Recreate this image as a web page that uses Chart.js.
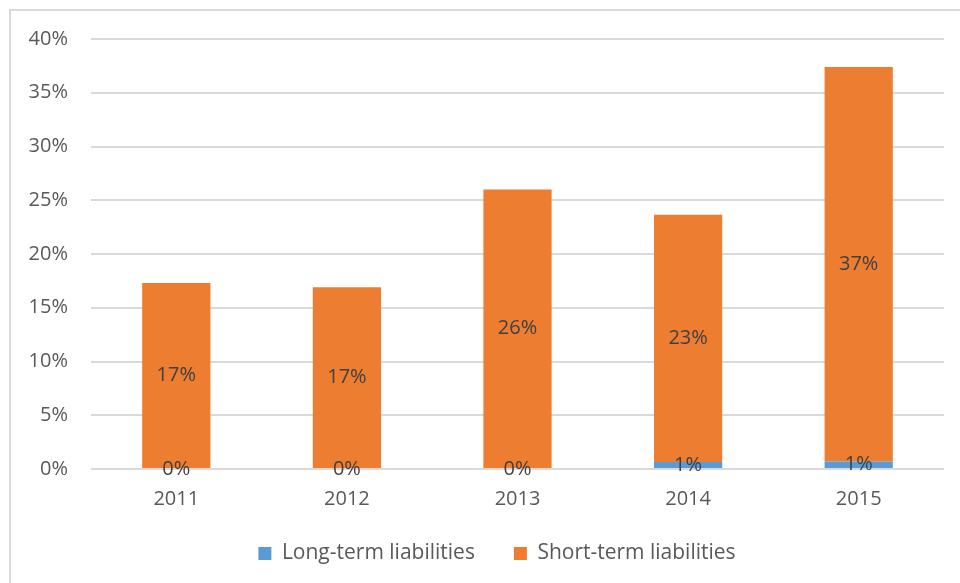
<!DOCTYPE html>
<html>
<head>
<meta charset="utf-8">
<script src="https://cdn.jsdelivr.net/npm/chart.js@4.4.0/dist/chart.umd.min.js"></script>
<style>
  html, body { margin: 0; padding: 0; background: #fff; }
  #wrap { position: relative; width: 960px; height: 583px; overflow: hidden; }
  #frame { position: absolute; left: 9px; top: 9px; width: 1000px; height: 700px;
    border-left: 2px solid #d9d9d9; border-top: 2px solid #d9d9d9; }
  #c { position: absolute; left: 0; top: 0; }
</style>
</head>
<body>
<div id="wrap">
  <div id="frame"></div>
  <canvas id="c" width="960" height="583"></canvas>
</div>
<script>
const years = ['2011', '2012', '2013', '2014', '2015'];
const longTerm = [0, 0, 0, 0.65, 0.7];
const shortTerm = [17.3, 16.9, 26.0, 23.0, 36.7];
const yTicks = [0, 5, 10, 15, 20, 25, 30, 35, 40];

const FONT = "'Open Sans', sans-serif";

// draws the value in the middle of every bar segment
const segmentLabels = {
  id: 'segmentLabels',
  afterDatasetsDraw(chart) {
    const { ctx } = chart;
    ctx.save();
    ctx.font = `20px ${FONT}`;
    ctx.fillStyle = '#404040';
    ctx.textAlign = 'center';
    ctx.textBaseline = 'middle';
    chart.data.datasets.forEach((ds, i) => {
      chart.getDatasetMeta(i).data.forEach((bar, j) => {
        const p = bar.getProps(['x', 'y', 'base'], true);
        ctx.fillText(`${Math.round(ds.data[j])}%`, p.x, (p.y + p.base) / 2);
      });
    });
    ctx.restore();
  },
};

// nudge the legend so it sits where the original one does
const legendShift = {
  id: 'legendShift',
  afterLayout(chart) {
    const lg = chart.legend;
    lg.left += 15;
    lg.right += 15;
    lg.top -= 17;
    lg.bottom -= 17;
  },
};

document.addEventListener('DOMContentLoaded', () => {
  const ctx = document.getElementById('c');
  // eslint-disable-next-line no-unused-vars,no-undef
  const chart = new Chart(ctx, {
    type: 'bar',
    data: {
      labels: years,
      datasets: [{
        label: 'Long-term liabilities',
        data: longTerm,
        backgroundColor: '#5B9BD5',
        barPercentage: 0.4,
        categoryPercentage: 1,
      }, {
        label: 'Short-term liabilities',
        data: shortTerm,
        backgroundColor: '#ED7D31',
        barPercentage: 0.4,
        categoryPercentage: 1,
      }],
    },
    options: {
      responsive: false,
      animation: false,
      layout: { padding: { left: 20, right: 16, top: 39, bottom: -8 } },
      scales: {
        x: {
          stacked: true,
          grid: { display: false },
          border: { display: false },
          ticks: { color: '#595959', font: { family: FONT, size: 20 }, padding: 10 },
        },
        y: {
          stacked: true,
          min: 0,
          max: 40,
          afterBuildTicks: (s) => { s.ticks = yTicks.map((v) => ({ value: v })); },
          grid: { color: '#d9d9d9', lineWidth: 2, drawTicks: false },
          border: { display: false },
          ticks: {
            color: '#595959',
            font: { family: FONT, size: 20 },
            padding: 23,
            callback: (v) => `${v}%`,
          },
          afterFit: (s) => { s.width = 71; },
        },
      },
      plugins: {
        legend: {
          position: 'bottom',
          labels: {
            color: '#595959',
            font: { family: FONT, size: 21 },
            boxWidth: 13,
            boxHeight: 13,
            padding: 39,
          },
        },
        tooltip: { enabled: false },
      },
    },
    plugins: [segmentLabels, legendShift],
  });
});
</script>
</body>
</html>
